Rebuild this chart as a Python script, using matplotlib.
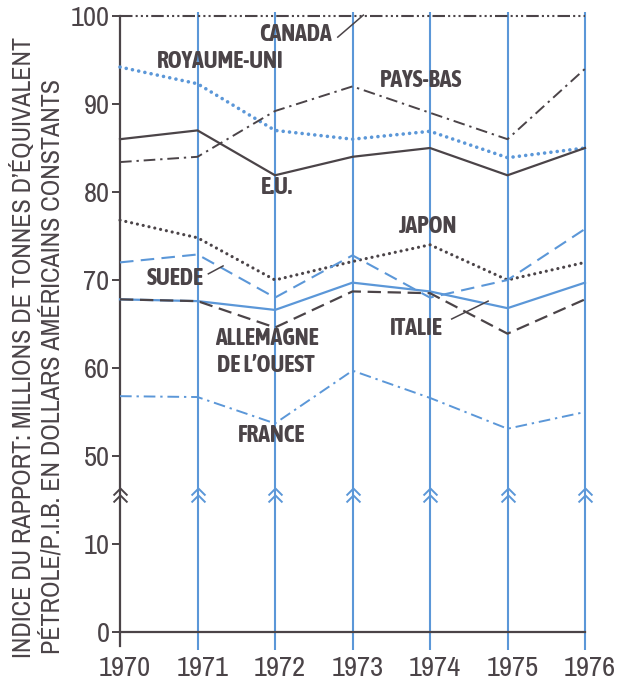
import numpy as np
import matplotlib
matplotlib.use("Agg")
import matplotlib.pyplot as plt
import matplotlib.font_manager as fm
from matplotlib.path import Path
from matplotlib.transforms import ScaledTranslation

# ---- data -------------------------------------------------------------
years = [1970, 1971, 1972, 1973, 1974, 1975, 1976]

canada      = [100, 100, 100, 100, 100, 100, 100]
royaume_uni = [94.2, 92.3, 87.0, 86.0, 86.9, 83.9, 85.0]
etats_unis  = [86.0, 87.0, 81.9, 84.0, 85.0, 81.9, 85.0]
pays_bas    = [83.4, 84.0, 89.2, 92.0, 89.0, 86.0, 94.0]
japon       = [76.8, 74.8, 70.0, 72.1, 74.0, 70.0, 72.0]
suede       = [72.0, 72.9, 68.0, 72.8, 68.0, 70.0, 75.8]
italie      = [67.8, 67.6, 66.6, 69.7, 68.7, 66.8, 69.7]
allemagne   = [67.8, 67.6, 64.6, 68.7, 68.5, 63.9, 67.8]
france      = [56.8, 56.7, 53.7, 59.7, 56.6, 53.1, 55.0]

ytick_values = [0, 10, 50, 60, 70, 80, 90, 100]
ytick_labels = ["0", "10", "50", "60", "70", "80", "90", "100"]

ylabel_1 = "INDICE DU RAPPORT: MILLIONS DE TONNES D’ÉQUIVALENT"
ylabel_2 = "PÉTROLE/P.I.B. EN DOLLARS AMÉRICAINS CONSTANTS"

# ---- style --------------------------------------------------------------
DARK = "#4b4448"
BLUE = "#5b97d8"


def _weight(w):
    if isinstance(w, str):
        return fm.weight_dict.get(w, 400)
    return int(w)


# narrow sans faces available, with the weights each one offers
_narrow = {}
for f in fm.fontManager.ttflist:
    if "Narrow" in f.name or "Condensed" in f.name:
        _narrow.setdefault(f.name, set()).add(_weight(f.weight))

TEXT_FAMILY, NAME_FAMILY = "Roboto", "Roboto"
TICK_FS, TITLE_FS, NAME_FS = 17.5, 14.5, 14
if _narrow:
    regular = [n for n, w in _narrow.items() if min(w) <= 450]
    TEXT_FAMILY = (regular or list(_narrow))[0]
    TICK_FS, TITLE_FS = 20.5, 18.7
    bold = [n for n, w in _narrow.items() if max(w) >= 600]
    if bold:
        NAME_FAMILY, NAME_FS = bold[0], 17

plt.rcParams["font.family"] = [TEXT_FAMILY, "DejaVu Sans"]


# broken y scale: 0-10 kept, 10-50 squeezed into one tick step, 50-100 kept
def fwd(v):
    v = np.asarray(v, dtype=float)
    return np.where(v <= 10, v, np.where(v >= 50, v - 30, 10 + (v - 10) * 0.25))


def inv(u):
    u = np.asarray(u, dtype=float)
    return np.where(u <= 10, u, np.where(u >= 20, u + 30, 10 + (u - 10) * 4))


fig = plt.figure(figsize=(6.26, 6.8), dpi=100)
fig.patch.set_facecolor("white")
ax = fig.add_axes([112.25 / 626, 1 - 658.4 / 680, 480.5 / 626, 651.2 / 680])
ax.set_yscale("function", functions=(fwd, inv))
ax.set_xlim(1969.9, 1976.1)
ax.set_ylim(-3, 101)
ax.set_facecolor("none")

# vertical year rules
for yr in years[1:]:
    ax.plot([yr, yr], [-2, 100.5], color=BLUE, lw=1.5, zorder=1,
            solid_capstyle="butt")

# axes
for side in ("top", "right"):
    ax.spines[side].set_visible(False)
ax.spines["left"].set_position(("data", 1970))
ax.spines["left"].set_bounds(-1.6, 100)
ax.spines["left"].set_color(DARK)
ax.spines["left"].set_linewidth(1.6)
ax.spines["bottom"].set_position(("data", 0))
ax.spines["bottom"].set_bounds(1970, 1976)
ax.spines["bottom"].set_color(DARK)
ax.spines["bottom"].set_linewidth(1.6)

ax.set_yticks(ytick_values)
ax.set_yticklabels(ytick_labels)
ax.yaxis.set_minor_locator(matplotlib.ticker.NullLocator())
ax.tick_params(axis="y", direction="out", length=5.5, width=1.4, color=DARK,
               labelcolor=DARK, labelsize=TICK_FS, pad=2)
ax.set_xticks(years)
ax.set_xticklabels([str(y) for y in years])
ax.tick_params(axis="x", length=0, labelcolor=DARK, labelsize=TICK_FS, pad=17.5)
shift = ScaledTranslation(5 / 100, 0, fig.dpi_scale_trans)
for lab in ax.get_xticklabels():
    lab.set_transform(lab.get_transform() + shift)

# scale-break chevrons on the axis and on each rule
chev = Path([(-0.5, 0.0), (0.0, 0.5), (0.5, 0.0),
             (-0.5, -0.5), (0.0, 0.0), (0.5, -0.5)],
            [Path.MOVETO, Path.LINETO, Path.LINETO,
             Path.MOVETO, Path.LINETO, Path.LINETO])
break_level = 32.4
ax.plot([years[0]], [break_level], ls="none", marker=chev, ms=10,
        mfc="none", mec=DARK, mew=1.4, zorder=3)
ax.plot(years[1:], [break_level] * 6, ls="none", marker=chev, ms=10,
        mfc="none", mec=BLUE, mew=1.4, zorder=3)

# series
ax.plot(years, canada, color=DARK, lw=1.5, dashes=(6, 1.5, 1, 1.5, 1, 1.5, 1, 1.5),
        zorder=4)
ax.plot(years, royaume_uni, color=BLUE, lw=2.6, dashes=(0.01, 1.75),
        dash_capstyle="round", zorder=4)
ax.plot(years, etats_unis, color=DARK, lw=1.6, zorder=4)
ax.plot(years, pays_bas, color=DARK, lw=1.4, dashes=(6, 2.5, 1.2, 2.5), zorder=4)
ax.plot(years, japon, color=DARK, lw=2.3, dashes=(0.01, 1.85),
        dash_capstyle="round", zorder=4)
ax.plot(years, suede, color=BLUE, lw=1.5, dashes=(6.5, 3.5), zorder=4)
ax.plot(years, italie, color=BLUE, lw=1.6, zorder=4)
ax.plot(years, allemagne, color=DARK, lw=1.6, dashes=(6, 3), zorder=4)
ax.plot(years, france, color=BLUE, lw=1.4, dashes=(6, 2.5, 1.2, 2.5), zorder=4)

# country names
label_kw = dict(color=DARK, fontsize=NAME_FS, fontweight="bold", ha="center",
                va="center", zorder=5, family=[NAME_FAMILY, "DejaVu Sans"])
ax.text(1972.26, 97.95, "CANADA", **label_kw)
ax.text(1971.30, 94.8, "ROYAUME-UNI", **label_kw)
ax.text(1973.88, 92.7, "PAYS-BAS", **label_kw)
ax.text(1972.03, 80.5, "E.U.", **label_kw)
ax.text(1973.97, 76.1, "JAPON", **label_kw)
ax.text(1970.71, 70.2, "SUEDE", **label_kw)
ax.text(1973.82, 64.5, "ITALIE", **label_kw)
ax.text(1971.90, 63.3, "ALLEMAGNE", **label_kw)
ax.text(1971.88, 60.3, "DE L’OUEST", **label_kw)
ax.text(1971.96, 52.3, "FRANCE", **label_kw)

# leader lines
lead_kw = dict(color=DARK, lw=1.1, zorder=5)
ax.plot([1972.81, 1973.14], [97.6, 100.1], **lead_kw)
ax.plot([1971.14, 1971.33], [70.7, 71.6], **lead_kw)
ax.plot([1974.28, 1974.75], [65.57, 67.6], **lead_kw)

# axis title, two rotated lines
fig.text(23 / 626, 1 - 348 / 680, ylabel_1, rotation=90, ha="center",
         va="center", color=DARK, fontsize=TITLE_FS)
fig.text(52 / 626, 1 - 366 / 680, ylabel_2, rotation=90, ha="center",
         va="center", color=DARK, fontsize=TITLE_FS)

fig.savefig("out.png", dpi=100, facecolor="white")
